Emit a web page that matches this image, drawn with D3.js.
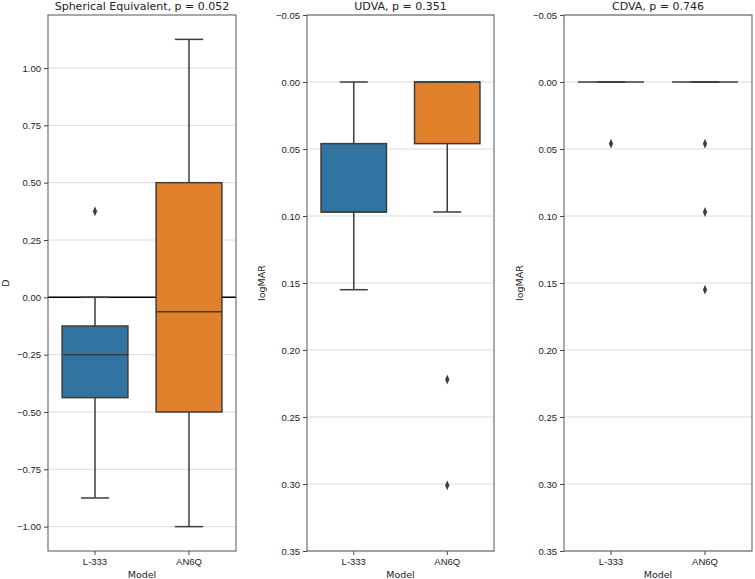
<!DOCTYPE html>
<html>
<head>
<meta charset="utf-8">
<script src="https://cdn.jsdelivr.net/npm/d3@7"></script>
<style>
  body { margin: 0; background: #fff; }
  svg { font-family: 'DejaVu Sans', sans-serif; }
</style>
</head>
<body>
<svg width="755" height="579"></svg>
<script>
const models = ['L-333', 'AN6Q']
const colors = ['#3274a1', '#e1812c']

// [whisker low, q1, median, q3, whisker high]
const seStats = [[-0.875, -0.4375, -0.25, -0.125, 0], [-1.0, -0.5, -0.0625, 0.5, 1.125]]
const seOutliers = [[0.375], []]
const seTicks = [1.0, 0.75, 0.5, 0.25, 0, -0.25, -0.5, -0.75, -1.0]

const udvaStats = [[0, 0.046, 0.097, 0.097, 0.155], [0, 0, 0, 0.046, 0.097]]
const udvaOutliers = [[], [0.222, 0.301]]

const cdvaStats = [[0, 0, 0, 0, 0], [0, 0, 0, 0, 0]]
const cdvaOutliers = [[0.046], [0.046, 0.097, 0.155]]

const marTicks = [-0.05, 0, 0.05, 0.1, 0.15, 0.2, 0.25, 0.3, 0.35]

const panels = [
	{ title: 'Spherical Equivalent, p = 0.052', ylab: 'D', stats: seStats, outl: seOutliers,
		domain: [-1.10625, 1.23125], ticks: seTicks, left: 48, right: 236, labX: 6, zero: true },
	{ title: 'UDVA, p = 0.351', ylab: 'logMAR', stats: udvaStats, outl: udvaOutliers,
		domain: [0.35, -0.05], ticks: marTicks, left: 307, right: 494, labX: 262 },
	{ title: 'CDVA, p = 0.746', ylab: 'logMAR', stats: cdvaStats, outl: cdvaOutliers,
		domain: [0.35, -0.05], ticks: marTicks, left: 564, right: 752, labX: 520 }
]

const plotTop = 15, plotBottom = 551
const lineCol = '#3d3d3d'
const svg = d3.select('svg')
const fmt = v => d3.format('.2f')(v).replace('-', '\u2212')

panels.forEach(p => {
	const y = d3.scaleLinear().domain(p.domain).range([plotBottom, plotTop])
	const x = d3.scaleBand().domain(models).range([p.left, p.right])
	const g = svg.append('g')

	// grid
	g.selectAll('.grid')
		.data(p.ticks)
		.enter()
		.append('line')
		.attr('x1', p.left).attr('x2', p.right)
		.attr('y1', d => y(d)).attr('y2', d => y(d))
		.attr('stroke', '#dcdcdc').attr('stroke-width', 1)

	if (p.zero) {
		g.append('line')
			.attr('x1', p.left).attr('x2', p.right)
			.attr('y1', y(0)).attr('y2', y(0))
			.attr('stroke', '#000').attr('stroke-width', 1.5)
	}

	const yAxis = d3.axisLeft(y).tickValues(p.ticks).tickFormat(fmt).tickSize(4).tickPadding(3)
	const ya = g.append('g').attr('transform', `translate(${p.left},0)`).call(yAxis)
	ya.select('.domain').remove()
	ya.selectAll('line').attr('stroke', '#444')
	ya.selectAll('text').attr('font-size', 9.5).attr('fill', '#222')

	const xAxis = d3.axisBottom(x).tickSize(4).tickPadding(3)
	const xa = g.append('g').attr('transform', `translate(0,${plotBottom})`).call(xAxis)
	xa.select('.domain').remove()
	xa.selectAll('line').attr('stroke', '#444')
	xa.selectAll('text').attr('font-size', 9.5).attr('fill', '#222')

	const bw = x.bandwidth()
	models.forEach((m, i) => {
		const s = p.stats[i]
		const cx = x(m) + bw / 2
		const boxW = bw * 0.7, capW = bw * 0.3
		// whiskers
		g.append('line').attr('x1', cx).attr('x2', cx).attr('y1', y(s[0])).attr('y2', y(s[1]))
			.attr('stroke', lineCol).attr('stroke-width', 1.5)
		g.append('line').attr('x1', cx).attr('x2', cx).attr('y1', y(s[3])).attr('y2', y(s[4]))
			.attr('stroke', lineCol).attr('stroke-width', 1.5)
		g.append('line').attr('x1', cx - capW / 2).attr('x2', cx + capW / 2).attr('y1', y(s[0])).attr('y2', y(s[0]))
			.attr('stroke', lineCol).attr('stroke-width', 1.5)
		g.append('line').attr('x1', cx - capW / 2).attr('x2', cx + capW / 2).attr('y1', y(s[4])).attr('y2', y(s[4]))
			.attr('stroke', lineCol).attr('stroke-width', 1.5)
		// box
		const y1 = Math.min(y(s[1]), y(s[3])), y2 = Math.max(y(s[1]), y(s[3]))
		g.append('rect')
			.attr('x', cx - boxW / 2).attr('width', boxW)
			.attr('y', y1).attr('height', y2 - y1)
			.attr('fill', colors[i])
			.attr('stroke', lineCol).attr('stroke-width', 1.5)
		g.append('line').attr('x1', cx - boxW / 2).attr('x2', cx + boxW / 2).attr('y1', y(s[2])).attr('y2', y(s[2]))
			.attr('stroke', lineCol).attr('stroke-width', 1.5)
		// outliers
		g.selectAll('.out' + i)
			.data(p.outl[i])
			.enter()
			.append('path')
			.attr('d', d3.symbol(d3.symbolDiamond, 28))
			.attr('transform', d => `translate(${cx},${y(d)}) scale(0.75,1)`)
			.attr('fill', lineCol)
	})

	// frame
	g.append('rect')
		.attr('x', p.left).attr('y', plotTop)
		.attr('width', p.right - p.left).attr('height', plotBottom - plotTop)
		.attr('fill', 'none').attr('stroke', '#555').attr('stroke-width', 1)

	g.append('text')
		.attr('x', (p.left + p.right) / 2).attr('y', 10)
		.attr('text-anchor', 'middle').attr('font-size', 11).attr('fill', '#222')
		.text(p.title)

	g.append('text')
		.attr('transform', `translate(${p.labX},${(plotTop + plotBottom) / 2}) rotate(-90)`)
		.attr('text-anchor', 'middle').attr('dy', '0.35em')
		.attr('font-size', 9.5).attr('fill', '#222')
		.text(p.ylab)

	g.append('text')
		.attr('x', (p.left + p.right) / 2).attr('y', 578)
		.attr('text-anchor', 'middle').attr('font-size', 9.5).attr('fill', '#222')
		.text('Model')
})
</script>
</body>
</html>
